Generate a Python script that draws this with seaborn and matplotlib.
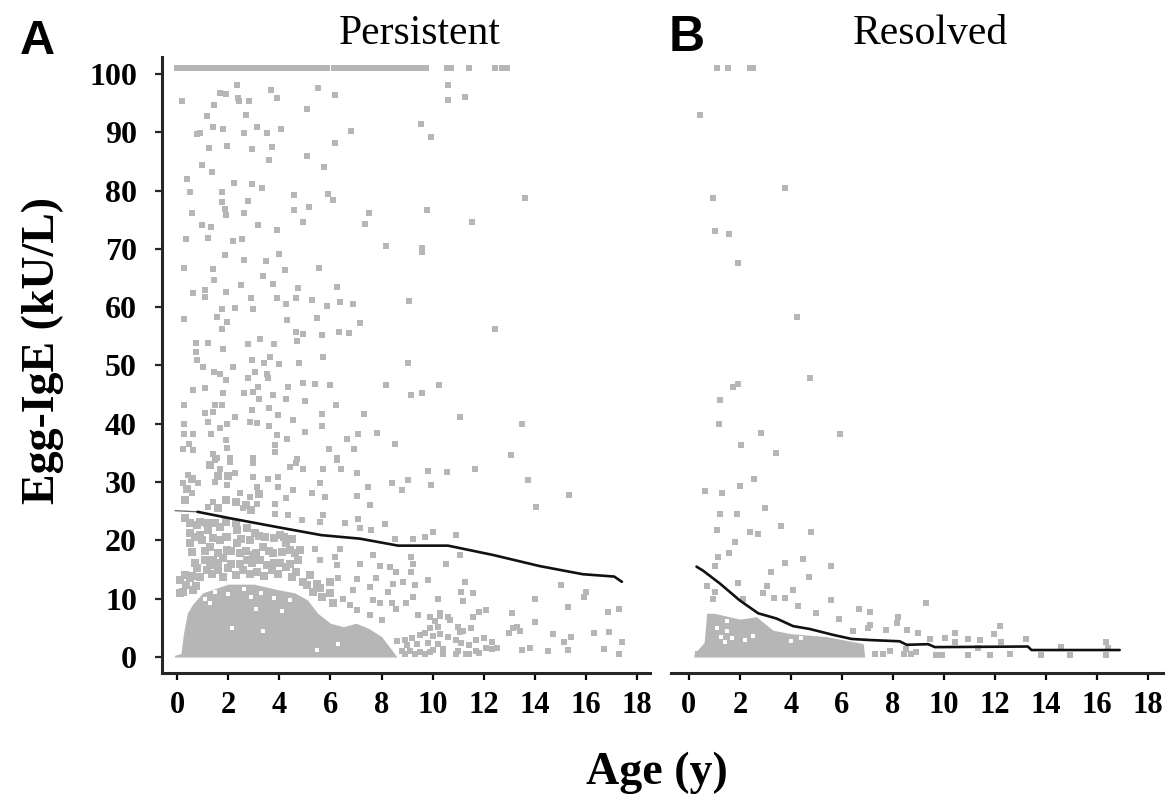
import matplotlib
matplotlib.use('Agg')
import matplotlib.pyplot as plt
import pandas as pd
import seaborn as sns

# values: (age in years, egg-IgE in kU/L)
persistent_ceiling_ages = [0.0, 0.15, 0.3, 0.45, 0.6, 0.75, 0.9, 1.05, 1.2, 1.35, 1.5, 1.65, 1.8, 1.95, 2.1, 2.25,
                           2.4, 2.55, 2.7, 2.85, 3.0, 3.15, 3.3, 3.45, 3.6, 3.75, 3.9, 4.05, 4.2, 4.35, 4.5, 4.65,
                           4.8, 4.95, 5.1, 5.25, 5.4, 5.55, 5.7, 5.85, 6.15, 6.3, 6.45, 6.6, 6.75, 6.9, 7.05, 7.2,
                           7.35, 7.5, 7.65, 7.8, 7.95, 8.1, 8.25, 8.4, 8.55, 8.7, 8.85, 9.0, 9.15, 9.3, 9.45, 9.6,
                           9.75, 10.55, 10.7, 11.4, 12.45, 12.7, 12.9]

persistent_high = [(.18,95.3),(2.33,98.1),(1.68,96.8),(1.9,96.5),(2.4,95.8),(2.43,95.3),(2.83,95.3),(1.45,94.7),
                   (3.67,97.3),(3.92,95.9),(5.5,97.5),(6.17,96.4),(5.1,94),(1.16,92.8),(2.68,93),(10.6,98.1),
                   (10.6,95.6),(11.28,96),(.9,89.9),(.77,89.7),(1.39,90.9),(1.81,90.5),(2.63,89.8),(3.11,90.9),
                   (3.5,89.9),(4.05,90.5),(9.53,91.4),(9.92,89.1),(6.8,90.2),(1.25,87.3),(1.97,87.6),(2.92,87.1),
                   (3.72,87.4),(3.6,85.2),(6.17,88.1),(5.07,85.9),(.98,84.3),(5.75,84.1),(1.37,83.1),(.38,81.9),
                   (2.23,81.3),(2.94,81.1),(3.31,80.5),(.51,79.8),(1.74,79.8),(4.58,79.2),(5.91,79.4),(6.1,78.3),
                   (13.6,78.7),(1.74,78.1),(2.76,78.2),(1.88,76.9),(.57,76.1),(1.91,75.8),(2.62,76.2),(4.58,76.6),
                   (5.17,77.2),(7.51,76.2),(9.78,76.7),(.96,74.1),(1.32,73.8),(3.18,74.1),(3.89,73.2),(4.93,74.6),
                   (7.34,74.3),(11.54,74.6),(.34,71.7),(1.2,71.9),(2.2,71.4),(2.53,71.7),(8.16,70.5),(9.6,70.1)]

persistent_mid = [(1.88,68.9),(2.62,68.1),(3.48,67.9),(4,69.2),(9.6,69.5),(.29,66.7),(1.42,66.6),(4.22,66.3),
                  (5.56,66.7),(3.37,65.3),(1.45,64.6),(2.5,63.8),(3.74,63.9),(4.74,63.3),(6.26,63.5),(.64,62.5),
                  (1.09,63),(1.09,61.8),(1.91,62.6),(2.88,61.5),(3.89,61.5),(4.28,60.6),(4.64,61.5),(5.29,61.2),
                  (5.85,60.2),(6.37,60.8),(6.89,60.6),(9.08,61),(1.74,59.6),(2.27,59.8),(2.98,59.6),(.29,57.9),
                  (1.55,58.3),(1.97,57.5),(1.74,56.2),(4.31,57.8),(5.46,58.1),(7.15,57.3),(12.44,56.2),(4.65,55.8),
                  (4.94,55.4),(5.65,55.2),(6.33,55.8),(6.73,55.5),(.74,53.8),(.74,52.3),(1.2,53.9),(1.81,52.8),
                  (2.76,53.7),(3.24,54.5),(3.79,53.7),(4.71,54.2),(.79,50.9),(2.94,51),(3.63,51.5),(4,50.3),
                  (5.72,51.5),(4.77,50.5),(3.41,50.5),(9.02,50.5),(1,49.7),(2.18,49.7),(1.45,48.9),(1.68,48.6),
                  (1.91,47.5),(3.05,48.8),(2.79,47.8),(3.5,48.6),(3.57,47.8),(.64,45.8),(1.09,46.2),(3.18,46.3),
                  (2.98,45.5),(4.32,46.3),(4.94,47),(5.39,46.9),(5.98,46.7),(8.19,46.6),(10.23,46.7),(1.78,45.2),
                  (2.62,45.2),(3.76,44.9),(9.17,45),(9.6,45.2),(3.22,44.2),(4.26,44.2),(.29,43.3),(1.48,43.2),
                  (1.74,43.3),(1.42,42.1),(3.6,42.7),(5,43.9),(6.21,43.2),(2.92,42.3),(1.09,41.8),(2.27,41.2),
                  (3.96,41.5),(5.65,41.6),(7.32,41.6),(11.08,41.1),(1.22,40.3),(4.55,40.6),(2.85,40.3),(3.14,40.2),
                  (.29,39.9),(13.5,39.9),(3.6,39.6),(5.65,39.6),(1.68,39.2),(1.97,39.9),(.29,38.2),(.64,38.2),
                  (1.32,38.3),(3.89,38.1),(5,38.6),(7.06,38.3),(7.83,38.5),(1.91,37.2),(4.29,37.4),(6.63,37.4),
                  (3.83,36.3),(8.52,36.5),(.48,36.5),(1.97,35.8),(.25,35.7),(.64,35.5),(5.95,35.7),(6.91,35.7),
                  (3.83,35.2),(1.39,34.9),(13.05,34.6),(2.96,34.2),(1.55,34.1),(2.07,34.1),(4.71,33.9),(6.24,34.1)]

persistent_low = [(1.48,33.8),(1.68,32.3),(2.07,33.5),(2.27,31.5),(2.98,33.2),(2.98,30.9),(.44,31.2),(.83,29.8),
                  (.25,29.8),(.57,28.1),(1.48,30.1),(1.94,29.5),(2.46,28.1),(3.11,29.2),(2.85,27.5),(3.11,26.3),
                  (2.59,25.5),(1.42,26.6),(1.22,25.8),(4.41,32.6),(4.67,33.2),(4.93,32.3),(3.57,30.6),(3.96,30.9),
                  (3.96,29.2),(4.55,28.6),(4.28,27.2),(3.83,26.3),(3.83,24.6),(4.35,24.3),(5.26,28.1),(5.59,29.8),
                  (5.78,27.5),(5.72,32.2),(6.43,32.2),(6.24,33.8),(7.02,31.5),(7.02,27.6),(7.47,29.2),(7.54,26.1),
                  (8.39,29.8),(8.78,28.7),(9.04,30.3),(9.82,31.9),(9.92,29.5),(10.56,31.8),(11.64,32.2),(13.73,30.3),
                  (15.35,27.8),(14.05,25.8),(5.72,24.3),(7.08,23.7),(6.56,23),(5.59,23.2),(4.87,23.5),(8.13,22.8),
                  (7.6,21.8),(7.15,22.1),(8.52,20.3),(9.23,20.3),(9.69,20.6),(10.01,21.5),(10.9,20.9)]

# the crowded band under the trend line
persistent_band = [(.31,23.8),(.77,22.6),(1.16,22.9),(.5,21.2),(.9,20.9),(1.22,21.8),(.5,19.5),(.96,20.1),(1.68,22.3),
                   (1.94,20.6),(2.33,21.8),(2.72,22.1),(3.05,21.2),(3.44,20.6),(4.02,20.9),(4.48,20.3),(4.8,18.3),
                   (4.28,19.5),(2.33,19.5),(2.85,20.1),(3.37,18.9),(1.29,18.9),(1.68,20.1),(1.94,18.3),(2.46,17.8),
                   (2.98,17.5),(3.76,17.8),(4.41,18.3),(4.74,16.6),(1.09,16.6),(1.42,16.6),(1.81,16.9),(2.72,16.6),
                   (3.24,16.6),(4.02,16.1),(1.16,14.9),(.77,15.2),(1.61,14.9),(2,15.2),(2.59,14.9),(3.11,14.6),
                   (3.7,14.9),(4.28,15.5),(4.67,14.6),(.12,13.2),(.5,13.5),(.9,13.8),(4.93,12.9),(5.46,12.6),
                   (5.98,12.9),(.25,11.2),(.64,11.5),(5.33,11.2),(5.98,10.9),(5.65,10.3),(6.1,9.2),(.12,10.9),
                   (.35,12.3),(.75,12.1),(5.1,12.3),(5.6,11.9),(.3,14.1),(.6,13.9),(1.35,14.2),(1.8,13.8),(2.3,14.1),
                   (2.85,14.3),(3.4,13.9),(3.95,14.2),(4.5,13.8),(5.2,14),(.7,16.1),(1.3,15.8),(1.6,16.2),(2.1,16),
                   (2.45,15.9),(2.95,16.1),(3.5,15.8),(3.8,16.2),(4.4,16),(.6,18),(1.1,18.2),(1.6,17.8),(2.1,18.1),
                   (2.7,18.2),(3.1,17.9),(3.6,18.1),(4.1,18),(4.6,17.8),(.7,20.5),(1.4,20.4),(1.9,20.6),(2.5,20.3),
                   (3.2,20.7),(3.8,20.4),(4.2,20.6),(.5,23),(.9,23.2),(1.5,22.9),(1.9,23.1),(2.3,23),(1.9,27),
                   (2.3,26.5),(2.7,26),(1.6,25.6),(2.9,25.2),(3.2,28),(2,31),(1.6,31),(1.3,33),(.6,30.5),(.4,28.9),(.3,27)]

persistent_right = [(6.37,18.6),(5.39,18.6),(6.17,17.2),(6.24,15.8),(5.59,16.7),(7.15,15.9),(7.67,17.5),(7.93,15.6),
                    (8.32,15.4),(8.58,14.6),(7.8,13.5),(9.17,17.2),(9.23,16),(9.17,14.5),(10.53,16),(11.06,17.5),
                    (7.02,13.3),(7.54,12),(7.67,9.8),(7.93,9.2),(8.45,12.6),(8.26,11.2),(8.84,12.9),(9.3,12.3),
                    (9.82,13.2),(9.23,10.3),(10.21,10),(11.25,12.9),(11.12,11.2),(11.58,10.9),(11.18,9.6),(6.3,13.5),
                    (6.5,10),(6.89,11.5),(6.76,8.9),(7.02,8),(7.54,7.2),(8,6.3),(8.39,9.2),(8.58,8.3),(8.97,9.2),
                    (9.43,7.2),(9.88,6.9),(10.27,7.5),(10.66,6.3),(11.05,4.3),(10.2,5.2),
                    (8.8,1),(9.1,1),(9.5,.8),(9.9,.8),(10.4,.6),(10.9,.6),(11.3,.6),(11.7,1),(12.3,1.3),
                    (8.6,2.8),(8.9,3),(9.2,3.3),(9.5,3.8),(9.7,4.2),(9.9,5),(10.1,6.2),(10.3,7),(10.6,6.8),(10,3.6),
                    (10.3,4),(10.6,3.4),(10.9,3),(11.1,2.4),(10.2,2.2),(9,2),(9.4,2.2),(9.8,2.4),(10.4,1.4),(8.9,.6),
                    (9.3,.5),(9.7,.5),(10,1.2),(11,1),(11.4,2),(11.7,3),(12,3.3),(12.3,2.6),(12.5,1.6),(12.1,1.5),
                    (11.8,.7),(11.4,.5),(11.2,4.5),(11,5.2),(11.5,5),(11.58,6.9),(11.8,7.8),(12.1,8),(13.14,4.9),
                    (13.4,4.5),(13.5,1.2),(13.8,1.5),(14.5,1.1),(14.7,4),(15.3,1.2),(15.15,2.6),(15.4,3.5),(16.3,4.2),
                    (16.9,4.3),(16.7,1.3),(17.3,.6),(17.4,2.6),(14,6),(15.3,8.5),(16.85,7.7),(17.3,8.2),(15.9,10.3),
                    (16,11.2),(15,12.3),(14,10),(13.1,7.5),(13.0,4.2),(13.3,5.2)]

# saturated grey mass at the bottom of each panel: age, top of the mass
persistent_mass_age = [-.1, .15, .25, .4, .6, 1, 2, 3, 4, 4.6, 5.1, 5.5, 6, 6.5, 7, 7.5, 8, 8.4, 8.6]
persistent_mass_top = [.3, .6, 4, 7.5, 9, 11, 12.5, 12.5, 11.5, 11, 9.8, 7.5, 5.8, 5.2, 5.8, 4.9, 3.5, 1.2, 0]
persistent_holes = [(1.29,9.2),(2.13,4.9),(3.37,4.5),(5.46,1.2),(6.3,2.2),(2.0,10.8),(3.1,8.2),(4.1,7.9),(1.5,11.2),
                    (2.6,11.6),(3.3,11),(4.4,9.7),(1.1,9.9),(2.9,10.3),(3.8,10.2)]

persistent_line_start = [(-.08,25.1),(.8,24.9)]
persistent_line = [(.8,24.9),(2.07,23.8),(4.02,22.2),(5.65,20.9),(7.15,20.3),(8.65,19.1),(10.6,19.1),(12.36,17.5),
                   (14.18,15.6),(15.87,14.2),(17.1,13.8),(17.4,12.9)]

resolved_points = [(1.11,101),(1.54,101),(2.39,101),(2.52,101),(.43,92.9),(3.76,80.5),(.93,78.8),(1.02,73.1),(1.57,72.5),
                   (1.93,67.5),(4.25,58.3),(4.77,47.9),(1.93,46.9),(1.74,46.3),(1.24,44),(1.19,40),(2.82,38.5),
                   (5.93,38.3),(2.03,36.3),(3.4,35),(.63,28.5),(1.32,28.2),(2,29.4),(2.56,30.5),(2.98,25.5),(1.22,24.5),
                   (1.9,24.5),(3.63,22.5),(1.11,21.7),(2.39,21.5),(2.72,21.1),(4.78,21.4),(1.83,19.8),(1.57,17.9),
                   (1.15,17.2),(3.76,16.2),(4.48,16.8),(1.02,15.6),(5.56,15.6),(3.22,14.5),(4.71,13.8),(1.93,12.7),
                   (.73,12.2),(1.02,11.2),(3.05,12.1),(2.92,11),(4.09,11.5),(3.33,10.1),(3.76,10.1),(.95,10),(5.56,9.8),
                   (4.29,8.8),(2.13,10),(9.32,9.2),(6.67,8.2),(7.12,7.7),(5,7.5),(5.88,6.5),(8.21,6.9),(8.17,5.8),
                   (7.1,5.5),(7.03,4.9),(6.42,4.5),(7.73,4.6),(8.54,4.6),(8.99,4.2),(12.2,5.4),(10.43,4.1),(11.96,3.9),
                   (13.24,3.1),(10.04,3.2),(10.95,3.1),(11.41,2.9),(9.45,3.1),(10.43,2.5),(12.26,2.5),(16.38,2.5),
                   (14.6,1.8),(10.95,.3),(11.8,.3),(12.6,.6),(13.83,.3),(14.94,.3),(16.38,.3),(11.35,1.5),(16.44,1.5),
                   (7.3,.6),(7.6,.6),(7.9,1),(8.45,.6),(8.7,.6),(8.9,.8),(8.5,1.4),(9.7,.4),(9.95,.4),(.35,.5)]

resolved_mass_age = [.2, .4, .6, .7, 1, 2, 2.65, 3.3, 4, 5.4, 6.84, 6.9]
resolved_mass_top = [.5, 1.5, 2.5, 7.5, 7.5, 6.5, 6.9, 4.6, 4, 3.5, 2.3, 0]
resolved_holes = [(1.25,3.5),(1.5,4.5),(1.4,2.6),(1.7,3.2),(1.1,5),(1.5,6.2),(2.2,2.9),(2.5,3.6),(3.3,5.2),(4,2.8),(4.4,3.2)]

resolved_line = [(.3,15.5),(.56,14.8),(1.22,12.6),(2,9.7),(2.72,7.5),(3.44,6.6),(4.09,5.3),(4.75,4.8),(5.66,3.8),
                 (6.38,3.1),(7.16,2.9),(8.27,2.7),(8.54,2.1),(9.39,2.2),(9.65,1.7),(13.3,1.8),(13.44,1.2),(16.9,1.2)]

x_ticks = [0, 2, 4, 6, 8, 10, 12, 14, 16, 18]
y_ticks = [0, 10, 20, 30, 40, 50, 60, 70, 80, 90, 100]

grey = '#b6b6b6'


def to_df(*groups):
    rows = [p for g in groups for p in g]
    return pd.DataFrame(rows, columns=['age', 'ige'])


def dots(ax, df, color=grey, size=18):
    sns.scatterplot(data=df, x='age', y='ige', ax=ax, marker='s', s=size, color=color, linewidth=0, legend=False, zorder=2)


def trend(ax, pts, lw=1.9, color='#111111'):
    sns.lineplot(data=to_df(pts), x='age', y='ige', ax=ax, color=color, lw=lw, zorder=4, errorbar=None)


sns.set_theme(style='ticks')
plt.rcParams['font.family'] = ['Liberation Serif', 'DejaVu Serif']

W, H = 1169, 797
fig = plt.figure(figsize=(W / 100, H / 100), dpi=100)
axA = fig.add_axes([162 / W, 1 - 673 / H, (650 - 162) / W, (673 - 57) / H])
axB = fig.add_axes([671 / W, 1 - 673 / H, (1163 - 671) / W, (673 - 57) / H])

# panel A
axA.fill_between(persistent_mass_age, 0, persistent_mass_top, color=grey, lw=0, zorder=1)
dots(axA, to_df(persistent_high, persistent_mid, persistent_low, persistent_right))
dots(axA, to_df(persistent_band), size=30)
dots(axA, pd.DataFrame({'age': persistent_ceiling_ages, 'ige': [101] * len(persistent_ceiling_ages)}))
dots(axA, to_df(persistent_holes), color='white', size=8)
trend(axA, persistent_line_start, lw=0.9, color='#666666')
trend(axA, persistent_line)

# panel B
axB.fill_between(resolved_mass_age, 0, resolved_mass_top, color=grey, lw=0, zorder=1)
dots(axB, to_df(resolved_points))
dots(axB, to_df(resolved_holes), color='white', size=8)
trend(axB, resolved_line)

axA.set_xlim(-0.59, 18.5)
axB.set_xlim(-0.7, 18.6)
for ax in (axA, axB):
    ax.set_ylim(-2.74, 102.9)
    ax.set_xlabel('')
    ax.set_ylabel('')
    ax.set_xticks(x_ticks)
    ax.tick_params(axis='x', length=5, width=1.6, pad=8, labelsize=22, color='black', labelcolor='black')
    for lab in ax.get_xticklabels():
        lab.set_fontweight('bold')
    ax.spines['bottom'].set_linewidth(2.2)
    ax.spines['left'].set_linewidth(2.2)
    sns.despine(ax=ax)

axA.set_yticks(y_ticks)
axA.tick_params(axis='y', length=5, width=1.6, pad=13, labelsize=23, labelcolor='black')
for lab in axA.get_yticklabels():
    lab.set_fontweight('bold')

axB.set_yticks([])
axB.spines['left'].set_visible(False)

fig.text(420 / W, 1 - 34 / H, 'Persistent', fontsize=30, ha='center', va='center', color='black')
fig.text(930 / W, 1 - 34 / H, 'Resolved', fontsize=30, ha='center', va='center', color='black')
fig.text(37 / W, 1 - 41 / H, 'A', fontsize=35, ha='center', va='center', fontweight='bold', family='Liberation Sans', color='black')
fig.text(687 / W, 1 - 38 / H, 'B', fontsize=36, ha='center', va='center', fontweight='bold', family='Liberation Sans', color='black')
fig.text(43 / W, 1 - 350 / H, 'Egg-IgE (kU/L)', fontsize=33, rotation=90, ha='center', va='center', fontweight='bold', color='black')
fig.text(657 / W, 1 - 773 / H, 'Age (y)', fontsize=33, ha='center', va='center', fontweight='bold', color='black')

fig.savefig('out.png', dpi=100)
